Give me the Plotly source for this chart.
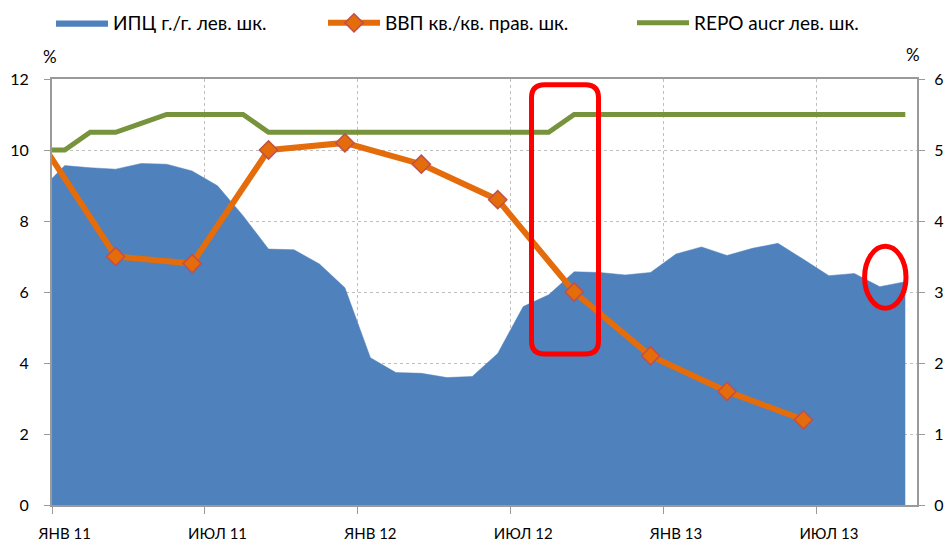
import plotly.graph_objects as go

# ---- data ----
months = ["2010-12",
          "2011-01", "2011-02", "2011-03", "2011-04", "2011-05", "2011-06",
          "2011-07", "2011-08", "2011-09", "2011-10", "2011-11", "2011-12",
          "2012-01", "2012-02", "2012-03", "2012-04", "2012-05", "2012-06",
          "2012-07", "2012-08", "2012-09", "2012-10", "2012-11", "2012-12",
          "2013-01", "2013-02", "2013-03", "2013-04", "2013-05", "2013-06",
          "2013-07", "2013-08", "2013-09", "2013-10"]
cpi = [8.84,
       9.56, 9.50, 9.46, 9.62, 9.60, 9.41,
       8.99, 8.15, 7.21, 7.19, 6.79, 6.12,
       4.15, 3.73, 3.71, 3.59, 3.62, 4.27,
       5.59, 5.92, 6.57, 6.55, 6.48, 6.55,
       7.07, 7.27, 7.03, 7.23, 7.37, 6.92,
       6.46, 6.52, 6.15, 6.29]
repo = [10.0,
        10.0, 10.5, 10.5, 10.75, 11.0, 11.0,
        11.0, 11.0, 10.5, 10.5, 10.5, 10.5,
        10.5, 10.5, 10.5, 10.5, 10.5, 10.5,
        10.5, 10.5, 11.0, 11.0, 11.0, 11.0,
        11.0, 11.0, 11.0, 11.0, 11.0, 11.0,
        11.0, 11.0, 11.0, 11.0]
gdp_quarters = ["2010-12", "2011-03", "2011-06", "2011-09", "2011-12",
                "2012-03", "2012-06", "2012-09", "2012-12", "2013-03", "2013-06"]
gdp = [5.15, 3.5, 3.4, 5.0, 5.1, 4.8, 4.3, 3.0, 2.1, 1.6, 1.2]

tick_months = ["2011-01", "2011-07", "2012-01", "2012-07", "2013-01", "2013-07"]
tick_text = ["ЯНВ 11", "ИЮЛ 11", "ЯНВ 12", "ИЮЛ 12", "ЯНВ 13", "ИЮЛ 13"]

# month index: Jan 2011 = 0
def idx(m):
    return months.index(m) - 1

x_cpi = [idx(m) for m in months]
x_gdp = [idx(m) for m in gdp_quarters]
tickvals = [idx(m) for m in tick_months]

FONT = "Lato"
BLUE = "#4F81BD"
ORANGE = "#E46C0A"
GREEN = "#77933C"
GRID = "#BFBFBF"
AXIS = "#9A9A9A"

fig = go.Figure()
fig.add_trace(go.Scatter(
    x=x_cpi, y=cpi, name="ИПЦ г./г. лев. шк.", mode="lines",
    fill="tozeroy", fillcolor=BLUE, line=dict(color=BLUE, width=0.5),
    showlegend=True, legend="legend"))
fig.add_trace(go.Scatter(
    x=x_gdp, y=gdp, name="ВВП кв./кв. прав. шк.", mode="lines+markers",
    line=dict(color=ORANGE, width=6),
    marker=dict(symbol="diamond", size=14, color=ORANGE,
                line=dict(color="#C0504D", width=1.5)),
    yaxis="y2", showlegend=True, legend="legend2"))
fig.add_trace(go.Scatter(
    x=x_cpi, y=repo, name="REPO aucr лев. шк.", mode="lines",
    line=dict(color=GREEN, width=5), showlegend=True, legend="legend3"))

# page geometry (body margin removed by post_script below)
FW, FH = 950, 545
L, R, T, B = 52, 917, 79, 505          # plot area in page pixels
W, H = R - L, B - T
def px(x):
    return (x - L) / W
def py(y):
    return (B - y) / H

# rounded rectangle (red)
x0, x1, y0, y1, r = 531.5, 598.5, 84.7, 354.0, 13
path = (f"M{px(x0 + r)},{py(y0)} L{px(x1 - r)},{py(y0)} "
        f"Q{px(x1)},{py(y0)} {px(x1)},{py(y0 + r)} "
        f"L{px(x1)},{py(y1 - r)} Q{px(x1)},{py(y1)} {px(x1 - r)},{py(y1)} "
        f"L{px(x0 + r)},{py(y1)} Q{px(x0)},{py(y1)} {px(x0)},{py(y1 - r)} "
        f"L{px(x0)},{py(y0 + r)} Q{px(x0)},{py(y0)} {px(x0 + r)},{py(y0)} Z")
fig.add_shape(type="path", path=path, xref="paper", yref="paper",
              line=dict(color="#FF0000", width=5))
fig.add_shape(type="circle", xref="paper", yref="paper",
              x0=px(885.3 - 20.7), x1=px(885.3 + 20.7),
              y0=py(277.3 + 31), y1=py(277.3 - 31),
              line=dict(color="#FF0000", width=5))

fig.add_annotation(text="%", xref="paper", yref="paper", x=px(41), y=py(44),
                   showarrow=False, font=dict(size=17, color="#000", family=FONT))
fig.add_annotation(text="%", xref="paper", yref="paper", x=px(922), y=py(42),
                   showarrow=False, font=dict(size=17, color="#000", family=FONT))

legend_common = dict(orientation="h", yanchor="middle", y=py(23),
                     xanchor="left", bgcolor="rgba(0,0,0,0)",
                     font=dict(size=19, color="#000", family=FONT),
                     itemwidth=52)
fig.update_layout(
    width=FW, height=FH,
    margin=dict(l=L, r=FW - R, t=T, b=FH - B, autoexpand=False),
    paper_bgcolor="white", plot_bgcolor="white",
    font=dict(family=FONT, color="#000"),
    showlegend=True,
    legend=dict(x=px(51), **legend_common),
    legend2=dict(x=px(323), **legend_common),
    legend3=dict(x=px(632), **legend_common),
    xaxis=dict(
        range=[-0.5, 33.46], tickmode="array", tickvals=tickvals, ticktext=tick_text,
        ticks="", showgrid=False, zeroline=False,
        showline=True, linecolor=AXIS, linewidth=1.5, mirror=True,
        tickfont=dict(size=15, family=FONT, color="#000"),
        ticklabelstandoff=14,
        minor=dict(tickmode="array", tickvals=[v - 0.5 for v in tickvals],
                   ticks="outside", ticklen=7, tickcolor=AXIS,
                   showgrid=True, gridcolor=GRID, griddash="dot", gridwidth=1),
    ),
    yaxis=dict(
        range=[0, 12], tickvals=[0, 2, 4, 6, 8, 10, 12], ticks="outside", ticklen=6,
        tickcolor=AXIS, showline=True, linecolor=AXIS, linewidth=2,
        showgrid=True, gridcolor=GRID, griddash="dot", gridwidth=1, zeroline=False,
        tickfont=dict(size=16, family=FONT, color="#000"), ticklabelstandoff=12,
    ),
    yaxis2=dict(
        range=[0, 6], tickvals=[0, 1, 2, 3, 4, 5, 6], overlaying="y", side="right",
        ticks="outside", ticklen=6, tickcolor=AXIS, showline=True, linecolor=AXIS,
        linewidth=2, showgrid=False, zeroline=False,
        tickfont=dict(size=16, family=FONT, color="#000"), ticklabelstandoff=6,
    ),
)

fig.write_html("out.html",
               config={"displayModeBar": False},
               post_script="document.body.style.margin='0';"
                           "document.body.style.overflow='hidden';")
